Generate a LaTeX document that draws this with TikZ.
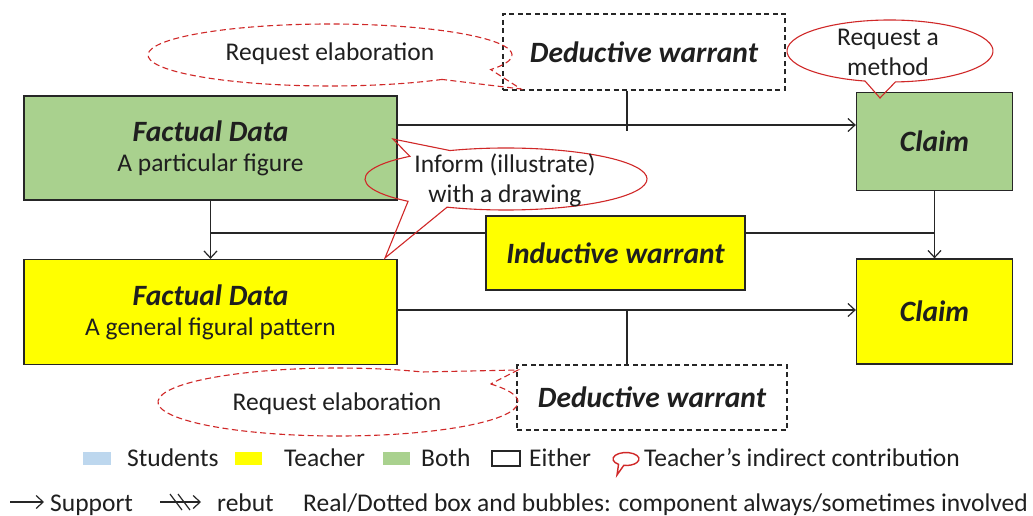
\documentclass[tikz,border=0pt]{standalone}
\usepackage{fontspec}
\setmainfont{Carlito}
\usetikzlibrary{arrows.meta,calc}
\definecolor{gfill}{HTML}{A9D18E}
\definecolor{yfill}{HTML}{FFFF00}
\definecolor{bfill}{HTML}{BDD7EE}
\definecolor{bred}{HTML}{D02828}
\newcommand\blab[1]{{\fontsize{29.5}{30}\selectfont\bfseries\itshape #1}}
\begin{document}
\begin{tikzpicture}[x=1pt,y=-1pt,
  every node/.style={font=\fontsize{25.5}{30}\selectfont, text=black!88},
  box/.style={draw=black!85, line width=1.3pt, inner sep=0pt, align=center},
  dbox/.style={draw=black!85, line width=1.1pt, dash pattern=on 5pt off 3.5pt, inner sep=0pt, align=center},
  link/.style={draw=black!85, line width=1.2pt},
  arr/.style={link, -{Straight Barb[length=7pt,width=13pt,line width=1.2pt]}},
  bub/.style={draw=bred, line width=1.1pt, line join=miter},
  dbub/.style={bub, dash pattern=on 6pt off 3.5pt},
  tt/.style={inner sep=0pt},
  swatch/.style={inner sep=0pt, minimum width=27pt, minimum height=13pt}
]
\useasboundingbox (0,0) rectangle (1033,516);
\fill[white] (0,0) rectangle (1033,516);

% boxes
\node[box, fill=gfill, minimum width=373pt, minimum height=104pt] (fd1) at (210.5,148) {\blab{Factual Data}\\A particular figure};
\node[box, fill=gfill, minimum width=156pt, minimum height=98pt] (cl1) at (934.5,141.5) {\blab{Claim}};
\node[dbox, minimum width=282pt, minimum height=76pt] (dw1) at (644,52) {\blab{Deductive warrant}};
\node[box, fill=yfill, minimum width=259pt, minimum height=74pt] (iw) at (615.5,253) {\blab{Inductive warrant}};
\node[box, fill=yfill, minimum width=373pt, minimum height=105pt] (fd2) at (210.5,312) {\blab{Factual Data}\\A general figural pattern};
\node[box, fill=yfill, minimum width=156pt, minimum height=105pt] (cl2) at (934.5,311.5) {\blab{Claim}};
\node[dbox, minimum width=270pt, minimum height=65pt] (dw2) at (652,397.5) {\blab{Deductive warrant}};

% connectors
\coordinate (ya) at (0,125);
\coordinate (yb) at (0,233);
\coordinate (yc) at (0,310);
\coordinate (xw1) at (627,131);
\coordinate (xw2) at (627,310);
\draw[arr] (fd1.east |- ya) -- (cl1.west |- ya);
\draw[link] (dw1.south -| xw1) -- (xw1);
\draw[arr] (fd1.south) -- (fd2.north);
\draw[link] (fd1.south |- yb) -- (iw.west |- yb);
\draw[link] (iw.east |- yb) -- (cl1.south |- yb);
\draw[arr] (cl1.south) -- (cl2.north);
\draw[arr] (fd2.east |- yc) -- (cl2.west |- yc);
\draw[link] (xw2) -- (dw2.north -| xw2);

% bubbles
\draw[dbub] ([shift={(330,55)}]52:182 and 31) arc[start angle=52, end angle=388, x radius=182, y radius=31] -- (521,89) -- cycle;
\node[tt] (re1) at (330,54) {Request elaboration};

\draw[bub] ([shift={(890,51)}]104:103 and 31) arc[start angle=104, end angle=447, x radius=103, y radius=31] -- (880,98) -- cycle;
\node[tt, align=center] (rm) at (888,52) {Request a\\method};

\draw[bub] ([shift={(506,179)}]246.6:141 and 31) arc[start angle=246.6, end angle=474.7, x radius=141, y radius=31] -- (385,258) -- ([shift={(506,179)}]134:141 and 31) arc[start angle=134, end angle=227, x radius=141, y radius=31] -- (393,139) -- cycle;
\node[tt, align=center] (inf) at (505,180) {Inform (illustrate)\\with a drawing};

\draw[dbub] ([shift={(338,402)}]-32:180 and 34) arc[start angle=-32, end angle=298, x radius=180, y radius=34] -- (518,370) -- cycle;
\node[tt] (re2) at (337,404) {Request elaboration};

% legend row 1
\node[swatch, fill=bfill, minimum width=28pt] (sw1) at (96.5,458.5) {};
\node[tt, anchor=base west] (l1) at (127,466) {Students};
\node[swatch, fill=yfill] (sw2) at (248.5,458.5) {};
\node[tt, anchor=base west] (l2) at (284,466) {Teacher};
\node[swatch, fill=gfill] (sw3) at (396.5,458.5) {};
\node[tt, anchor=base west] (l3) at (421,466) {Both};
\node[swatch, draw=black!85, line width=1.2pt, minimum width=28pt, minimum height=15pt] (sw4) at (506,458.5) {};
\node[tt, anchor=base west] (l4) at (529,466) {Either};
\draw[bub, line width=1.4pt] ([shift={(626,459)}]125:13 and 6.5) arc[start angle=125, end angle=460, x radius=13, y radius=6.5] -- (617,475) -- cycle;
\node[tt, anchor=base west] (l5) at (644,466) {Teacher’s indirect contribution};

% legend row 2
\coordinate (s0) at (10,502);
\coordinate (s1) at (44,502);
\draw[arr] (s0) -- (s1);
\node[tt, anchor=base west] (l6) at (50,511) {Support};
\coordinate (r0) at (160,502);
\coordinate (r1) at (201,502);
\draw[arr] (r0) -- (r1);
\draw[link] (170,494) -- (182,510);
\draw[link] (178,494) -- (190,510);
\node[tt, anchor=base west] (l7) at (217,511) {rebut};
\node[tt, anchor=base west] (l8) at (303,511) {Real/Dotted box and bubbles: component always/sometimes involved};
\end{tikzpicture}
\end{document}
